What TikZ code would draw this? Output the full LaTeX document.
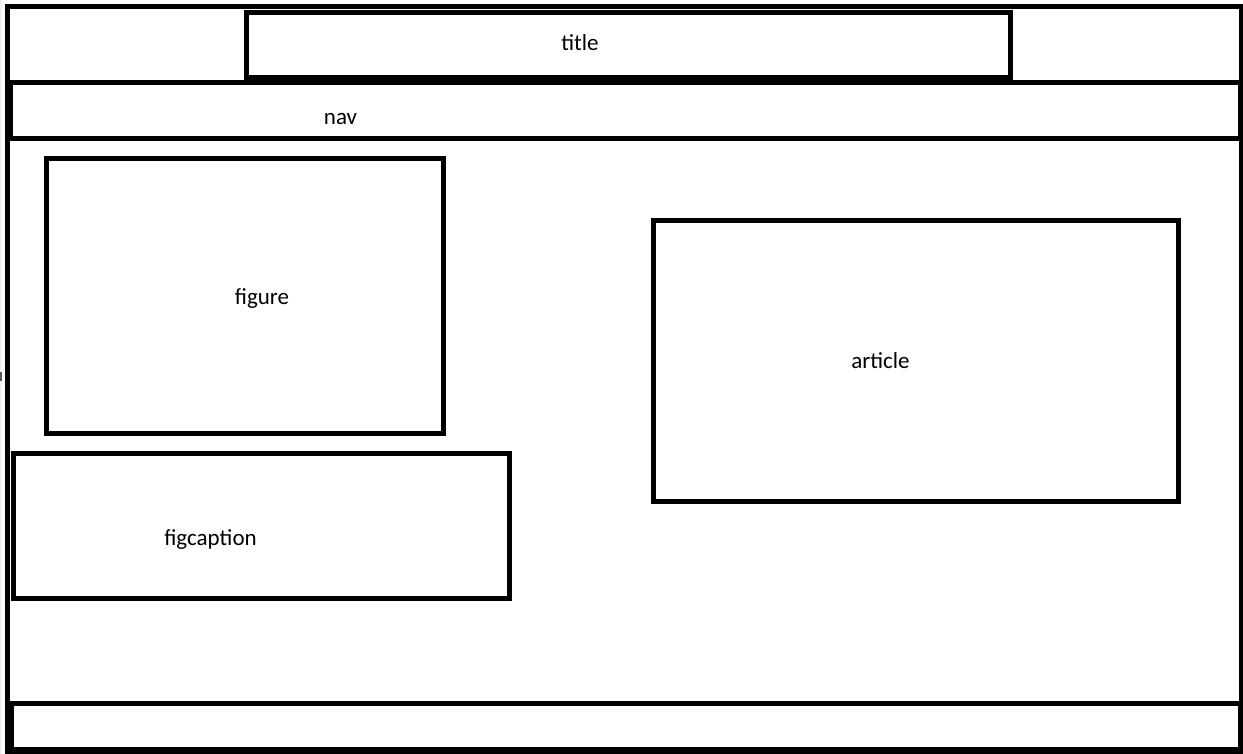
\documentclass[tikz,border=0pt]{standalone}
\usepackage{fontspec}
\setmainfont{Carlito}
\begin{document}
\begin{tikzpicture}[x=1pt,y=-1pt,
  frame/.style={draw=black,line width=5pt,line join=miter},
  lbl/.style={inner sep=0pt,anchor=base,font=\fontsize{23}{27}\selectfont}]
\useasboundingbox (0,0) rectangle (1243,754);
\fill[white] (0,0) rectangle (1243,754);
\fill[gray!12] (0,0) rectangle (2,754);
\fill[gray!70!black] (0,372) rectangle (2,381);
% outer frame
\draw[frame] (7.5,6.5) rectangle (1241.5,751);
% title box
\draw[frame] (246,12.5) rectangle (1010.5,77.5);
% nav box
\draw[frame] (10.5,82.5) rectangle (1240,138.5);
% main bottom line
\draw[frame] (7.5,703.5) -- (1241.5,703.5);
% footer
\draw[frame] (11.5,703.5) rectangle (1240,749.5);
% figure
\draw[frame] (46.5,158.5) rectangle (443.5,433.5);
% figcaption
\draw[frame] (13.5,453.5) rectangle (509.5,598.5);
% article
\draw[frame] (653,221) rectangle (1178,501);
% labels
\node[lbl] (ttl) at (580,51) {title};
\node[lbl] (nv) at (340.5,125) {nav};
\node[lbl] (fig) at (262,305) {figure};
\node[lbl] (art) at (880.5,368.5) {article};
\node[lbl] (cap) at (210.5,545.5) {figcaption};
\end{tikzpicture}
\end{document}
